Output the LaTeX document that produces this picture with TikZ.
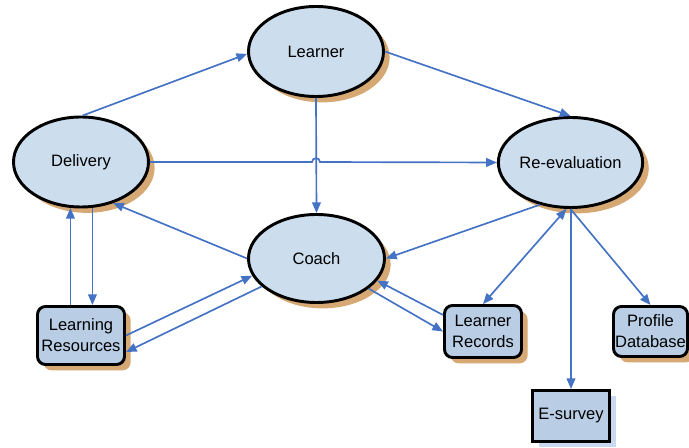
\documentclass[tikz,border=0pt]{standalone}
\usepackage{fontspec}
\setmainfont{Liberation Sans}
\usetikzlibrary{shapes.geometric,shadows,arrows.meta,calc}
\definecolor{ovalfill}{HTML}{CCDDEE}
\definecolor{boxfill}{HTML}{B9CDE5}
\definecolor{shadowtan}{HTML}{D6A874}
\definecolor{shadowblue}{HTML}{C9D8EE}
\definecolor{linkblue}{HTML}{4472C4}

\begin{document}
\begin{tikzpicture}[x=0.75pt,y=-0.75pt,
  every node/.style={font=\fontsize{12.4}{15.75}\selectfont, text=black},
  tanshadow/.style={drop shadow={shadow xshift=4.6pt, shadow yshift=-4.4pt, fill=shadowtan, opacity=1}},
  oval/.style={ellipse, draw=black, line width=2.2pt, fill=ovalfill,
    minimum width=101.25pt, minimum height=67.5pt, inner sep=0pt, tanshadow},
  store/.style={rectangle, rounded corners=6pt, draw=black, line width=2.2pt,
    fill=boxfill, inner sep=0pt, align=center, tanshadow},
  plainbox/.style={rectangle, draw=black, line width=2.2pt, fill=boxfill,
    inner sep=0pt, align=center,
    drop shadow={shadow xshift=4.6pt, shadow yshift=-4.2pt, fill=shadowblue, opacity=1}},
  tip/.tip={Triangle[length=8pt,width=6.5pt]},
  link/.style={draw=linkblue, line width=1.25pt, -tip},
  twoway/.style={link, tip-tip},
]
\useasboundingbox (0,0) rectangle (689,448);

% process ovals
\node[oval] (learner) at (316,51.5) {Learner};
\node[oval] (deliv) at (81,162) {Delivery};
\node[oval] (reeval) at (570.5,162.5) {Re-evaluation};
\node[oval, minimum width=102pt, minimum height=66pt] (coach) at (316.5,258.5) {Coach};

% data stores
\node[store, minimum width=65.25pt, minimum height=43.5pt] (lr) at (81,335.5) {Learning\\Resources};
\node[store, minimum width=57.75pt, minimum height=39pt] (lrec) at (483,331.5) {Learner\\Records};
\node[store, minimum width=55.5pt, minimum height=37.5pt] (profile) at (650.5,331.5) {Profile\\Database};
\node[plainbox, minimum width=57.75pt, minimum height=38.25pt] (esurvey) at (571,416) {E-survey};

% connectors
\coordinate (hop) at (learner.south |- deliv.east);
\draw[link] (deliv.88) -- (learner.182);
\draw[link] (learner.east) -- (reeval.north);
\draw[link] (learner.south) -- (coach.north);
\draw[link] (deliv.east) -- ($(hop)+(-4,0)$)
  .. controls ($(hop)+(-4,-5)$) and ($(hop)+(4,-5)$) .. ($(hop)+(4,0)$)
  -- (reeval.west);
\draw[link] (coach.west) -- (deliv.308);
\draw[link] (reeval.234) -- (coach.east);
\draw[link] (lr.north -| deliv.257) -- (deliv.257);
\draw[link] (deliv.284) -- (deliv.284 |- lr.north);
\draw[link] (lr.east) -- (coach.195);
\draw[link] (coach.207) -- ([yshift=-12.4pt]lr.east);
\draw[link] ([yshift=12.4pt]lrec.west) -- (coach.340);
\draw[link] (coach.330) -- (lrec.west);
\draw[twoway] (reeval.265) -- (lrec.north);
\draw[link] (esurvey.north |- reeval.south) -- (esurvey.north);
\draw[link] (reeval.south) -- (profile.north);
\end{tikzpicture}
\end{document}
